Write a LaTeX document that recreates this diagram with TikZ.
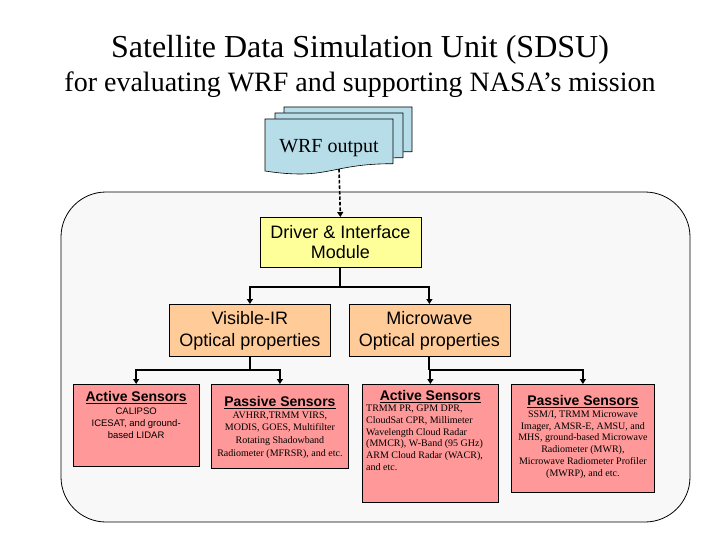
\documentclass[tikz,border=0pt]{standalone}
\usepackage{fontspec}
\setmainfont{Liberation Serif}
\setsansfont{Liberation Sans}
\usepackage{tikz}
\usetikzlibrary{
	arrows.meta,
	calc,
	positioning
}
\definecolor{DocBlue}{RGB}{183,221,232}
\definecolor{PanelGray}{RGB}{248,248,248}
\definecolor{DriverYellow}{RGB}{255,255,153}
\definecolor{OptOrange}{RGB}{255,204,153}
\definecolor{SensorRed}{RGB}{255,153,153}

\begin{document}
\begin{tikzpicture}[x=1pt, y=-1pt,
		box/.style={draw=black, line width=0.8pt, inner sep=0pt, anchor=north west},
		drvbox/.style={box, fill=DriverYellow, align=center, font=\sffamily\fontsize{18}{20}\selectfont},
		optbox/.style={box, fill=OptOrange, minimum width=161pt, minimum height=52pt, align=center, font=\sffamily\fontsize{18}{22}\selectfont},
		senbox/.style={box, fill=SensorRed},
		senhead/.style={anchor=base, inner sep=0pt, font=\sffamily\bfseries\fontsize{14}{16}\selectfont},
		senbody/.style={anchor=base, inner sep=0pt, align=center, font=\fontsize{10}{11.7}\selectfont},
		link/.style={line width=2pt},
		tip/.style={-{Triangle[length=5pt,width=6pt]}}
	]
		\fill[white] (0,0) rectangle (720,540);
		\useasboundingbox (0,0) rectangle (720,540);
		
		% 标题
		\node[anchor=base, font=\fontsize{32}{36}\selectfont] (title) at (360,58) {Satellite Data Simulation Unit (SDSU)};
		\node[anchor=base, font=\fontsize{28}{32}\selectfont] (subtitle) at (360,92) {for evaluating WRF and supporting NASA’s mission};
		
		% WRF 输出 (三张叠放的文档)
		\foreach \dx/\dy in {19/-12, 10/-6, 0/0}
			\draw[fill=DocBlue, line width=0.6pt, shift={(\dx,\dy)}] (265,119) -- (393,119) -- (393,163.7)
				.. controls (329,163.7) and (329,180.7) .. (265,171) -- cycle;
		\node[anchor=base, inner sep=0pt, font=\fontsize{20}{24}\selectfont] (wrftext) at (329,153) {WRF output};
		\coordinate (wrfout) at (339,169);
		
		% SDSU 面板
		\draw[fill=PanelGray, line width=0.8pt, rounded corners=45pt] (61,192) rectangle (690,522);
		
		% 驱动模块
		\node[drvbox, minimum width=161pt, minimum height=50pt] (driver) at (259.5,217) {Driver \& Interface\\Module};
		\draw[line width=1.6pt, dash pattern=on 3.5pt off 2pt, tip] (wrfout) -- (driver.north);
		
		% 光学性质
		\node[optbox] (vis) at (169,304) {Visible-IR\\Optical properties};
		\node[optbox] (mw) at (348.5,304) {Microwave\\Optical properties};
		
		\coordinate (busA) at ($(driver.south)+(0,19)$);
		\draw[link] (driver.south) -- (busA);
		\draw[link, tip] (busA) -| (vis.north);
		\draw[link, tip] (busA) -| (mw.north);
		
		% 传感器
		\node[senbox, minimum width=125.5pt, minimum height=82pt] (avis) at (73,384) {};
		\node[senbox, minimum width=137pt, minimum height=84pt] (pvis) at (211,384) {};
		\node[senbox, minimum width=136pt, minimum height=118pt] (amw) at (362,384) {};
		\node[senbox, minimum width=143pt, minimum height=108pt] (pmw) at (511,384) {};
		
		\coordinate (busB) at ($(vis.south)+(0,13)$);
		\coordinate (busC) at ($(mw.south)+(0,13)$);
		\draw[link] (vis.south) -- (busB);
		\draw[link, tip] (busB) -| (avis.north);
		\draw[link, tip] (busB) -| (pvis.north);
		\draw[link] (mw.south) -- (busC);
		\draw[link, tip] (busC) -| (amw.north);
		\draw[link, tip] (busC) -| (pmw.north);
		
		\node[senhead] (avishead) at ($(avis.north)+(0,17.7)$) {\underline{Active Sensors}};
		\node[senhead] (pvishead) at ($(pvis.north)+(0,22.5)$) {\underline{Passive Sensors}};
		\node[senhead] (amwhead) at ($(amw.north)+(0,16.7)$) {\underline{Active Sensors}};
		\node[senhead] (pmwhead) at ($(pmw.north)+(0,21.5)$) {\underline{Passive Sensors}};
		
		% 多行文字: base 为末行基线
		\node[senbody, font=\sffamily\fontsize{9.5}{12}\selectfont] (avisbody) at ($(avis.north)+(0,54.3)$) {CALIPSO\\ICESAT, and ground-\\based LIDAR};
		\node[senbody, font=\fontsize{10}{12.6}\selectfont] (pvisbody) at ($(pvis.north)+(0,72)$) {AVHRR,TRMM VIRS,\\MODIS, GOES, Multifilter\\Rotating Shadowband\\Radiometer (MFRSR), and etc.};
		\node[senbody, anchor=base west, align=left] (amwbody) at ($(amw.north west)+(4,86.2)$) {TRMM PR, GPM DPR,\\CloudSat CPR, Millimeter\\Wavelength Cloud Radar\\(MMCR), W-Band (95 GHz)\\ARM Cloud Radar (WACR),\\and etc.};
		\node[senbody] (pmwbody) at ($(pmw.north)+(0,92)$) {SSM/I, TRMM Microwave\\Imager, AMSR-E, AMSU, and\\MHS, ground-based Microwave\\Radiometer (MWR),\\Microwave Radiometer Profiler\\(MWRP), and etc.};
	\end{tikzpicture}
\end{document}
